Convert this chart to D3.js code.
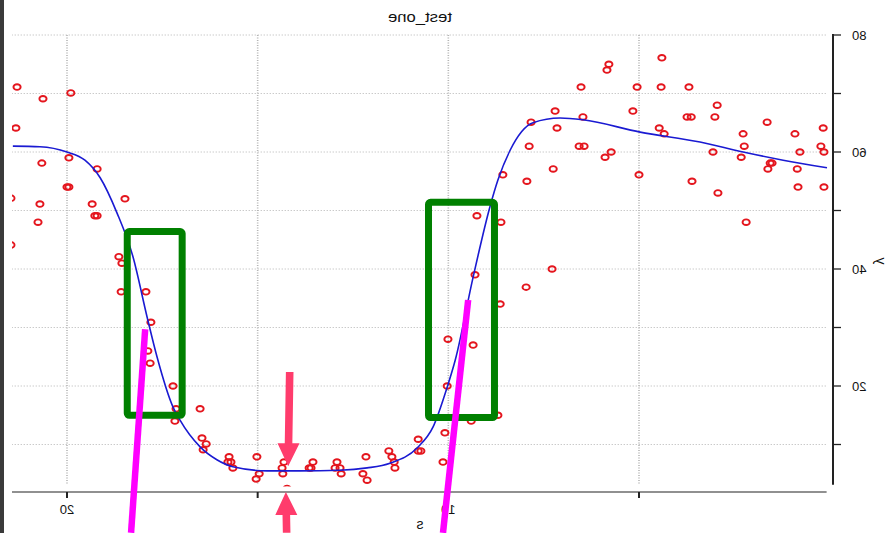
<!DOCTYPE html>
<html>
<head>
<meta charset="utf-8">
<script src="https://cdn.jsdelivr.net/npm/d3@7"></script>
<style>
  html, body { margin: 0; padding: 0; background: #fff; }
  svg { display: block; }
  text { font-family: "Liberation Sans", Arial, Helvetica, sans-serif; fill: #111; }
</style>
</head>
<body>
<svg id="chart" width="891" height="533"></svg>
<script>
// ---- observations: s (horizontal) and y (vertical) ----
const sValues = [21.31,20.63,19.90,21.34,20.66,19.95,19.21,21.47,20.71,20.00,19.95,19.34,18.48,19.27,19.21,20.76,21.47,
  18.64,18.56,18.58,17.93,17.80,17.88,17.82,17.22,17.14,17.17,16.51,16.46,16.35,16.43,15.75,15.70,15.78,15.65,15.02,14.96,
  15.04,14.31,14.36,14.34,14.23,13.65,13.60,13.55,12.97,12.84,12.92,12.81,12.16,12.24,12.13,11.56,11.48,11.42,11.40,10.79,
  10.79,10.72,10.14,10.09,10.03,10.01,9.35,9.30,9.40,8.70,8.64,7.96,7.28,9.25,8.62,7.94,8.57,7.25,7.88,6.57,6.44,7.15,7.83,
  6.47,7.20,6.52,5.79,5.84,4.40,5.05,4.42,3.69,2.95,5.16,3.74,3.63,3.01,1.64,4.47,4.34,2.27,0.91,0.17,2.24,0.23,5.73,5.89,
  3.06,0.78,0.15,2.32,1.51,1.56,1.62,0.85,5.00,3.61,2.93,0.83,0.15,2.19];
const yValues = [71.1,69.1,70.1,64.1,58.1,59.0,57.1,52.1,51.1,54.0,54.0,51.1,52.0,49.1,49.1,48.0,44.1,
  42.1,41.0,36.1,36.1,30.9,26.0,23.9,20.0,16.1,14.0,16.1,11.1,10.1,9.1,7.9,7.0,7.0,6.0,7.9,5.0,
  4.1,7.0,6.0,5.0,2.5,6.0,6.0,7.0,6.0,6.0,7.0,5.0,7.9,5.0,3.9,8.9,7.9,7.0,6.0,10.9,
  8.9,8.9,7.0,12.0,20.0,28.0,27.0,39.0,14.0,15.0,34.0,36.9,40.0,49.1,48.0,55.0,56.1,57.1,61.0,61.0,61.0,64.1,65.1,
  66.0,67.0,71.1,75.0,74.0,76.1,71.1,71.1,71.1,68.0,67.0,66.0,66.0,66.0,65.1,64.1,63.1,63.1,63.1,64.1,61.0,61.0,60.0,59.1,
  60.0,60.0,60.0,59.1,58.1,58.1,57.1,57.1,56.1,55.0,53.0,54.0,54.0,48.0];

// ---- smooth fit through the observations ----
const fitS = [21.42,20.71,20.00,19.53,19.13,18.69,18.27,17.90,17.64,17.22,17.04,16.51,16.07,15.65,14.75,13.89,12.84,
  12.13,11.53,10.82,10.40,10.03,9.82,9.35,8.91,8.70,8.38,7.78,7.07,6.47,4.97,3.40,2.27,1.22,0.07];
const fitY = [61.0,60.9,60.0,58.6,55.6,49.6,42.1,31.8,25.0,16.4,14.2,9.6,7.4,6.2,5.5,5.5,5.6,
  6.0,6.8,9.4,13.0,19.8,24.4,38.6,50.6,55.2,60.3,65.0,65.8,65.5,63.4,61.7,60.0,58.6,57.3];

// ---- axes ----
const xTicks = [5, 10, 15, 20];
const xTickLabels = ["", "10", "", "20"];
const yTicks = [10, 20, 30, 40, 50, 60, 70, 80];
const yTickLabels = ["", "20", "", "40", "", "60", "", "80"];
const sLimits = [0.08, 21.45];
const yLimits = [3.1, 80];
const titleText = "test_one";
const xLabelText = "s";
const yLabelText = "y";

// ---- highlight marks (data coordinates) ----
const boxS0 = [18.42, 10.52];
const boxS1 = [16.98, 8.79];
const boxY0 = [46.4, 51.4];
const boxY1 = [15.0, 14.6];
const slashS0 = [17.95, 9.48];
const slashY0 = [29.7, 34.7];
const slashS1 = [18.32, 10.14];
const slashY1 = [-5.1, -5.1];
const arrowTipS = [14.20, 14.26];
const arrowTipY = [6.3, 1.9];
const arrowTailS = [14.16, 14.24];
const arrowTailY = [22.4, -5.1];

const svg = d3.select("#chart");

// the plot reads right-to-left: s grows leftwards, y axis on the right
const x = d3.scaleLinear().domain([5, 20]).range([639, 67]);
const y = d3.scaleLinear().domain([10, 80]).range([444.5, 35]);

const axisX = 833;
const axisY = 492;

// dark edge strip on the left border
svg.append("rect").attr("x", 0).attr("y", 0).attr("width", 4).attr("height", 533).attr("fill", "#3a3a3a");

const defs = svg.append("defs");
defs.append("clipPath").attr("id", "panel")
  .append("rect").attr("x", 12).attr("y", 0).attr("width", 879).attr("height", 533);
// data marks stay inside the plotting region
defs.append("clipPath").attr("id", "region")
  .append("rect").attr("x", 12).attr("y", 0).attr("width", 819).attr("height", 486.5);

const plot = svg.append("g").attr("clip-path", "url(#panel)");

// grid
const grid = plot.append("g").attr("fill", "none").attr("stroke", "#b4b4b4");
grid.selectAll("line.h").data(yTicks).join("line").attr("class", "h")
  .attr("x1", x(sLimits[1])).attr("x2", x(sLimits[0]))
  .attr("y1", d => y(d)).attr("y2", d => y(d))
  .attr("stroke-width", 1).attr("stroke-dasharray", "1,2");
grid.selectAll("line.v").data(xTicks).join("line").attr("class", "v")
  .attr("x1", d => x(d)).attr("x2", d => x(d))
  .attr("y1", y(yLimits[1])).attr("y2", y(yLimits[0]) - 1)
  .attr("stroke-width", 1.6).attr("stroke-dasharray", "1,1.5");

// x axis
plot.append("line").attr("x1", x(sLimits[1])).attr("x2", x(sLimits[0]))
  .attr("y1", axisY).attr("y2", axisY).attr("stroke", "#222").attr("stroke-width", 1.2);
plot.selectAll("line.xt").data(xTicks).join("line").attr("class", "xt")
  .attr("x1", d => x(d)).attr("x2", d => x(d)).attr("y1", axisY).attr("y2", axisY + 6)
  .attr("stroke", "#222").attr("stroke-width", 2);
plot.selectAll("text.xl").data(xTicks).join("text").attr("class", "xl")
  .attr("transform", d => `translate(${x(d)},514) scale(-1,1)`)
  .attr("text-anchor", "middle").attr("font-size", 13)
  .text((d, i) => xTickLabels[i]);

// y axis
svg.append("line").attr("x1", axisX).attr("x2", axisX)
  .attr("y1", y(yLimits[1]) - 1).attr("y2", y(yLimits[0]))
  .attr("stroke", "#222").attr("stroke-width", 2);
svg.selectAll("line.yt").data(yTicks).join("line").attr("class", "yt")
  .attr("x1", axisX).attr("x2", axisX + 8).attr("y1", d => y(d)).attr("y2", d => y(d))
  .attr("stroke", "#222").attr("stroke-width", 1.3);
svg.selectAll("text.yl").data(yTicks).join("text").attr("class", "yl")
  .attr("transform", d => `translate(852,${y(d) + 5}) scale(-1,1)`)
  .attr("text-anchor", "end").attr("font-size", 13)
  .text((d, i) => yTickLabels[i]);

// titles
svg.append("text").attr("transform", "translate(420,22) scale(-1,1)")
  .attr("text-anchor", "middle").attr("font-size", 14)
  .attr("textLength", 64).attr("lengthAdjust", "spacingAndGlyphs")
  .text(titleText);
svg.append("text").attr("transform", "translate(420,529) scale(-1,1)")
  .attr("text-anchor", "middle").attr("font-size", 14).text(xLabelText);
svg.append("text").attr("transform", "translate(876,261) scale(-1,1) rotate(-90)")
  .attr("text-anchor", "middle").attr("font-size", 14).text(yLabelText);

const marks = plot.append("g").attr("clip-path", "url(#region)");

// observations
const pts = sValues.map((s, i) => ({ s, v: yValues[i] }));
marks.append("g").selectAll("ellipse").data(pts).join("ellipse")
  .attr("cx", d => x(d.s)).attr("cy", d => y(d.v))
  .attr("rx", 3.6).attr("ry", 2.8)
  .attr("fill", "none").attr("stroke", "#e4161e").attr("stroke-width", 1.9);

// smooth fit
const fit = fitS.map((s, i) => ({ s, v: fitY[i] }));
marks.append("path").datum(fit)
  .attr("fill", "none").attr("stroke", "#1a1ad2").attr("stroke-width", 1.6)
  .attr("d", d3.line().x(d => x(d.s)).y(d => y(d.v)).curve(d3.curveMonotoneX));

// highlight boxes
const ann = svg.append("g");
ann.selectAll("rect.box").data(boxS0).join("rect").attr("class", "box")
  .attr("x", (d, i) => x(boxS0[i]))
  .attr("y", (d, i) => y(boxY0[i]))
  .attr("width", (d, i) => x(boxS1[i]) - x(boxS0[i]))
  .attr("height", (d, i) => y(boxY1[i]) - y(boxY0[i]))
  .attr("rx", 2).attr("fill", "none").attr("stroke", "#008000").attr("stroke-width", 7);

// slanted pointers
ann.selectAll("line.slash").data(slashS0).join("line").attr("class", "slash")
  .attr("x1", (d, i) => x(slashS0[i])).attr("y1", (d, i) => y(slashY0[i]))
  .attr("x2", (d, i) => x(slashS1[i])).attr("y2", (d, i) => y(slashY1[i]))
  .attr("stroke", "#ff00ff").attr("stroke-width", 6.5);

// arrows marking the minimum
const arrowPath = (i) => {
  const tx = x(arrowTipS[i]), ty = y(arrowTipY[i]);
  const bx = x(arrowTailS[i]), by = y(arrowTailY[i]);
  const dir = Math.sign(by - ty);          // +1 when the tail lies below the tip
  const head = 23, half = 11, shaft = 3.8;
  const hy = ty + dir * head;
  const hx = tx + (bx - tx) * (head / Math.abs(by - ty));
  return `M${tx},${ty} L${hx - half},${hy} L${hx - shaft},${hy} L${bx - shaft},${by} ` +
         `L${bx + shaft},${by} L${hx + shaft},${hy} L${hx + half},${hy} Z`;
};
ann.selectAll("path.arrow").data(arrowTipS).join("path").attr("class", "arrow")
  .attr("d", (d, i) => arrowPath(i)).attr("fill", "#ff3c6c");
</script>
</body>
</html>
